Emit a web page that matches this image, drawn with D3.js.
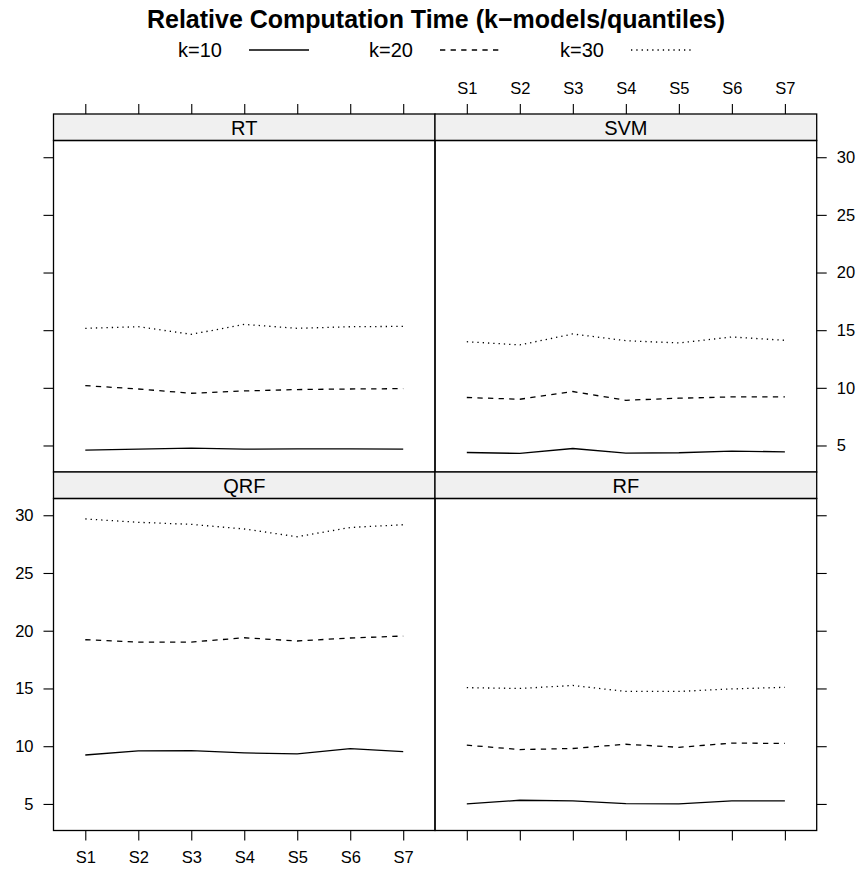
<!DOCTYPE html>
<html>
<head>
<meta charset="utf-8">
<script src="https://cdn.jsdelivr.net/npm/d3@7"></script>
<style>
  html, body { margin: 0; padding: 0; background: #fff; }
  svg { display: block; font-family: "Liberation Sans", Arial, Helvetica, sans-serif; }
</style>
</head>
<body>
<svg id="chart" width="860" height="870"></svg>
<script>
// Categories and series
const steps = ["S1", "S2", "S3", "S4", "S5", "S6", "S7"];
const kLabels = ["k=10", "k=20", "k=30"];
const models = ["RT", "SVM", "QRF", "RF"];
const yTicks = [5, 10, 15, 20, 25, 30];

// Relative computation time per model, one array per k
const rtK10  = [4.60, 4.68, 4.77, 4.68, 4.70, 4.70, 4.68];
const rtK20  = [10.19, 9.90, 9.53, 9.73, 9.85, 9.90, 9.93];
const rtK30  = [15.16, 15.30, 14.64, 15.50, 15.16, 15.30, 15.33];

const svmK10 = [4.39, 4.31, 4.74, 4.34, 4.37, 4.51, 4.45];
const svmK20 = [9.16, 9.01, 9.68, 8.92, 9.10, 9.21, 9.21];
const svmK30 = [14.00, 13.72, 14.67, 14.09, 13.89, 14.41, 14.12];

const qrfK10 = [9.24, 9.59, 9.61, 9.42, 9.33, 9.79, 9.53];
const qrfK20 = [19.22, 19.02, 19.02, 19.39, 19.11, 19.37, 19.54];
const qrfK30 = [29.68, 29.39, 29.21, 28.81, 28.14, 28.94, 29.18];

const rfK10  = [5.00, 5.32, 5.26, 5.03, 5.00, 5.26, 5.26];
const rfK20  = [10.09, 9.71, 9.80, 10.17, 9.90, 10.27, 10.24];
const rfK30  = [15.07, 15.00, 15.26, 14.74, 14.74, 14.96, 15.10];

const seriesByModel = {
  RT:  [rtK10, rtK20, rtK30],
  SVM: [svmK10, svmK20, svmK30],
  QRF: [qrfK10, qrfK20, qrfK30],
  RF:  [rfK10, rfK20, rfK30]
};

// Layout of the 2x2 trellis
const colX = [53.5, 435, 816.7];
const rows = [
  { stripTop: 114, panelTop: 140.5, panelBottom: 472 },
  { stripTop: 472, panelTop: 498.5, panelBottom: 830.5 }
];
const panelPos = {
  RT:  { col: 0, row: 0 },
  SVM: { col: 1, row: 0 },
  QRF: { col: 0, row: 1 },
  RF:  { col: 1, row: 1 }
};
const dashes = [null, "5.3,5.3", "1.3,4"];
const lineW = 1.3;
const tickLen = 10;

const svg = d3.select("#chart");

const yDomain = [2.7, 31.45];
const idx = d3.range(1, steps.length + 1);

function xScale(col) {
  return d3.scaleLinear().domain([0.4, steps.length + 0.6]).range([colX[col], colX[col + 1]]);
}
function yScale(row) {
  return d3.scaleLinear().domain(yDomain).range([rows[row].panelBottom, rows[row].panelTop]);
}

function styleAxis(g, fontSize) {
  g.select(".domain").remove();
  g.selectAll(".tick line").attr("stroke", "#000").attr("stroke-width", 1.1);
  g.selectAll(".tick text").attr("fill", "#000").attr("font-size", fontSize)
    .attr("font-family", "'Liberation Sans', Arial, sans-serif");
}

const tickFont = 16.5;

models.forEach(m => {
  const { col, row } = panelPos[m];
  const x = xScale(col);
  const y = yScale(row);
  const r = rows[row];

  // strip
  svg.append("rect")
    .attr("x", colX[col]).attr("y", r.stripTop)
    .attr("width", colX[col + 1] - colX[col]).attr("height", r.panelTop - r.stripTop)
    .attr("fill", "#f0f0f0").attr("stroke", "#000").attr("stroke-width", 1.3);
  svg.append("text")
    .attr("x", (colX[col] + colX[col + 1]) / 2).attr("y", r.stripTop + 21)
    .attr("text-anchor", "middle").attr("font-size", 20).text(m);

  // series lines
  const line = d3.line().x((d, i) => x(idx[i])).y(d => y(d)).curve(d3.curveLinear);
  seriesByModel[m].forEach((vals, k) => {
    svg.append("path")
      .attr("d", line(vals))
      .attr("fill", "none").attr("stroke", "#000").attr("stroke-width", lineW)
      .attr("stroke-dasharray", dashes[k]);
  });

  // panel border
  svg.append("rect")
    .attr("x", colX[col]).attr("y", r.panelTop)
    .attr("width", colX[col + 1] - colX[col]).attr("height", r.panelBottom - r.panelTop)
    .attr("fill", "none").attr("stroke", "#000").attr("stroke-width", 1.3);
});

// Axes: labels alternate between sides as in a lattice layout
const stepFmt = i => steps[i - 1];
// top axes above the top row
[0, 1].forEach(col => {
  const ax = d3.axisTop(xScale(col)).tickValues(idx).tickSize(tickLen).tickPadding(10)
    .tickFormat(col === 1 ? stepFmt : () => "");
  const g = svg.append("g").attr("transform", `translate(0,${rows[0].stripTop})`).call(ax);
  styleAxis(g, tickFont);
});
// bottom axes below the bottom row
[0, 1].forEach(col => {
  const ax = d3.axisBottom(xScale(col)).tickValues(idx).tickSize(tickLen).tickPadding(10.5)
    .tickFormat(col === 0 ? stepFmt : () => "");
  const g = svg.append("g").attr("transform", `translate(0,${rows[1].panelBottom})`).call(ax);
  styleAxis(g, tickFont);
});
// left axes
[0, 1].forEach(row => {
  const ax = d3.axisLeft(yScale(row)).tickValues(yTicks).tickSize(tickLen).tickPadding(10)
    .tickFormat(row === 1 ? d3.format("d") : () => "");
  const g = svg.append("g").attr("transform", `translate(${colX[0]},0)`).call(ax);
  styleAxis(g, tickFont);
});
// right axes
[0, 1].forEach(row => {
  const ax = d3.axisRight(yScale(row)).tickValues(yTicks).tickSize(tickLen).tickPadding(10)
    .tickFormat(row === 0 ? d3.format("d") : () => "");
  const g = svg.append("g").attr("transform", `translate(${colX[2]},0)`).call(ax);
  styleAxis(g, tickFont);
});

// Title
svg.append("text")
  .attr("x", 436).attr("y", 28)
  .attr("text-anchor", "middle").attr("font-size", 25).attr("font-weight", "bold")
  .text("Relative Computation Time (k\u2212models/quantiles)");

// Legend
const legX = [178, 369, 560];
legX.forEach((lx, k) => {
  svg.append("text").attr("x", lx).attr("y", 57).attr("font-size", 20).text(kLabels[k]);
  svg.append("line")
    .attr("x1", lx + 71).attr("x2", lx + 131).attr("y1", 50).attr("y2", 50)
    .attr("stroke", "#000").attr("stroke-width", lineW)
    .attr("stroke-dasharray", dashes[k]);
});
</script>
</body>
</html>
